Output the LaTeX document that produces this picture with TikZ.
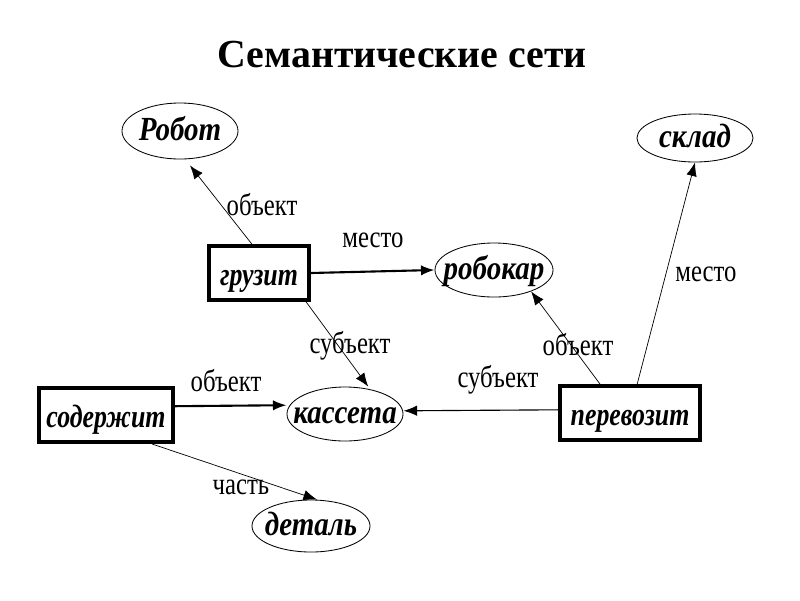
\documentclass[tikz,border=0pt]{standalone}
\usepackage{fontspec}
\setmainfont{Liberation Serif}
\newfontfamily\conceptfont[FakeStretch=0.86]{Liberation Serif}
\newfontfamily\actionfont[FakeStretch=0.8]{Liberation Serif}
\newfontfamily\labelfont[FakeStretch=0.8]{Liberation Serif}
\usetikzlibrary{positioning, arrows.meta, shapes.geometric}

\begin{document}
\begin{tikzpicture}[x=0.025cm, y=-0.025cm,
    concept/.style={draw, ellipse, line width=0.6pt, inner ysep=0pt, inner xsep=-0.45cm, text height=15.5pt, text depth=1.5pt,
      font=\conceptfont\fontsize{24}{26}\selectfont\bfseries\itshape},
    action/.style={draw, line width=2.8pt, inner sep=0pt, minimum height=1.35cm, text height=19pt, text depth=1.6pt,
      font=\actionfont\fontsize{23}{25}\selectfont\bfseries\itshape},
    rel/.style={font=\labelfont\fontsize{22}{24}\selectfont, inner sep=0pt},
    link/.style={-{Latex[length=3.4mm,width=2.6mm]}, line width=0.5pt}]
    \useasboundingbox (0,0) rectangle (800,600);
    \node[font=\bfseries\fontsize{28.3}{30}\selectfont] (title) at (402,55) {Семантические сети};
    % concepts
    \node[concept, minimum width=2.9cm, minimum height=1.4cm] (robot) at (180,131) {Робот};
    \node[concept, minimum width=2.9cm, minimum height=1.2cm] (sklad) at (695,138) {склад};
    \node[concept, minimum width=2.95cm, minimum height=1.35cm] (robokar) at (494,270) {робокар};
    \node[concept, minimum width=2.9cm, minimum height=1.35cm] (kasseta) at (345,414) {кассета};
    \node[concept, minimum width=2.95cm, minimum height=1.3cm] (detal) at (311,526) {деталь};
    % actions
    \node[action, minimum width=2.5cm] (gruzit) at (259,273) {грузит};
    \node[action, minimum width=3.35cm] (soderzhit) at (106,415) {содержит};
    \node[action, minimum width=3.5cm] (perevozit) at (630,413) {перевозит};
    % relations
    \draw[link] ([xshift=-0.18cm]gruzit.north) -- ([xshift=0.25cm,yshift=-0.15cm]robot.south);
    \draw[link, line width=1.5pt] (gruzit.east) -- (robokar.west);
    \draw[link] ([xshift=-0.12cm]gruzit.south east) -- ([xshift=0.58cm]kasseta.north);
    \draw[link] ([xshift=-0.75cm]perevozit.north) -- (robokar.-30);
    \draw[link] ([xshift=0.18cm]perevozit.north) -- (sklad.south);
    \draw[link, line width=0.8pt] ([yshift=0.08cm]perevozit.west) -- ([yshift=0.08cm]kasseta.east);
    \draw[link, line width=1.5pt] ([yshift=0.22cm]soderzhit.east) -- ([yshift=0.22cm]kasseta.west);
    \draw[link] ([xshift=1.15cm]soderzhit.south) -- ([xshift=0.15cm]detal.north);
    % labels
    \node[rel] (l1) at (262,205) {объект};
    \node[rel] (l2) at (373,240) {место};
    \node[rel] (l3) at (350,346) {субъект};
    \node[rel] (l4) at (578,345) {объект};
    \node[rel] (l5) at (706,274) {место};
    \node[rel] (l6) at (498,380) {субъект};
    \node[rel] (l7) at (226,381) {объект};
    \node[rel] (l8) at (241,487) {часть};
\end{tikzpicture}
\end{document}
